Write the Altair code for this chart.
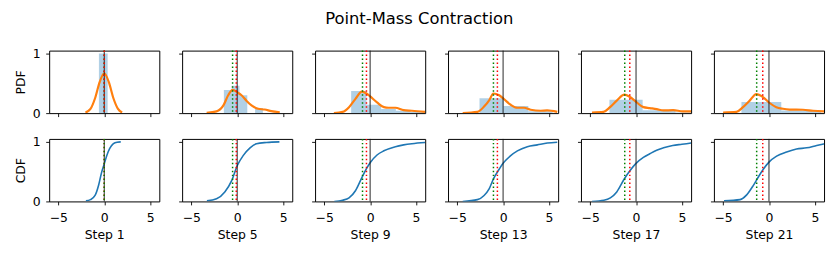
import altair as alt
import pandas as pd

steps = [1, 5, 9, 13, 17, 21]
means = [0.0, -0.1, -0.4, -0.62, -0.68, -0.68]
medians = [0.0, -0.5, -0.83, -1.05, -1.23, -1.34]

hist_edges = [
    [-0.58, 0.37],
    [-1.45, -0.6, 0.25, 1.1, 1.95, 2.8],
    [-2.07, -0.4, 1.2, 2.8, 4.4, 6.0],
    [-2.57, 0.05, 2.75, 5.4],
    [-2.9, 0.72, 4.3, 7.9],
    [-3.0, 1.34, 5.7],
]
hist_heights = [
    [1.0],
    [0.39, 0.46, 0.30, 0.0, 0.085],
    [0.37, 0.14, 0.07, 0.04, 0.02],
    [0.25, 0.12, 0.03],
    [0.225, 0.05, 0.01],
    [0.185, 0.045],
]

kde_x = [
    [-2.05, -1.5, -1.0, -0.5, 0.0, 0.5, 1.0, 1.5, 1.95],
    [-3.33, -2.25, -1.5, -0.98, -0.5, 0.0, 0.47, 1.0, 1.56, 2.28, 3.0, 3.73, 4.64],
    [-3.95, -3.0, -2.3, -1.6, -0.9, -0.4, 0.0, 0.75, 1.5, 2.0, 2.75, 3.65, 4.55, 6.0],
    [-4.4, -2.8, -2.07, -1.5, -1.05, -0.43, 0.1, 0.83, 1.56, 2.28, 3.0, 4.1, 4.8, 5.9],
    [-4.8, -3.55, -2.83, -2.1, -1.27, -0.65, 0.07, 0.8, 1.5, 2.25, 3.0, 4.05, 5.1, 6.0],
    [-5.0, -3.55, -2.83, -2.1, -1.38, -0.65, 0.07, 0.8, 1.52, 2.25, 3.7, 4.8, 6.0],
]
kde_y = [
    [0.01, 0.07, 0.25, 0.52, 0.67, 0.52, 0.25, 0.07, 0.01],
    [0.005, 0.03, 0.13, 0.3, 0.39, 0.35, 0.3, 0.21, 0.13, 0.073, 0.06, 0.034, 0.015],
    [0.0, 0.02, 0.1, 0.24, 0.36, 0.33, 0.28, 0.18, 0.1, 0.09, 0.09, 0.05, 0.04, 0.02],
    [0.0, 0.02, 0.11, 0.22, 0.33, 0.3, 0.235, 0.14, 0.09, 0.09, 0.056, 0.04, 0.045, 0.02],
    [0.01, 0.02, 0.1, 0.21, 0.31, 0.27, 0.18, 0.1, 0.084, 0.067, 0.045, 0.05, 0.028, 0.028],
    [0.01, 0.02, 0.1, 0.21, 0.32, 0.27, 0.17, 0.1, 0.073, 0.06, 0.056, 0.04, 0.03],
]

cdf_x = [
    [-2.0, -1.5, -1.0, -0.6, -0.3, 0.0, 0.3, 0.6, 1.0, 1.4, 1.8],
    [-3.3, -2.25, -1.35, -0.6, 0.0, 0.65, 1.4, 2.1, 3.2, 4.6],
    [-3.9, -3.0, -2.3, -1.6, -0.9, -0.4, 0.0, 0.75, 1.5, 2.75, 3.65, 4.55, 6.0],
    [-4.4, -2.8, -2.07, -1.52, -1.05, -0.43, 0.0, 0.83, 1.56, 2.64, 3.73, 4.82, 5.9],
    [-4.8, -3.5, -2.8, -2.1, -1.27, -0.65, 0.0, 0.8, 1.5, 2.25, 3.0, 4.0, 5.0, 6.0],
    [-4.9, -3.15, -2.43, -1.7, -1.16, -0.62, 0.0, 0.83, 1.92, 3.0, 4.1, 5.2, 6.1],
]
cdf_y = [
    [0.01, 0.03, 0.1, 0.28, 0.48, 0.63, 0.78, 0.89, 0.97, 0.995, 1.0],
    [0.01, 0.045, 0.16, 0.35, 0.6, 0.77, 0.9, 0.97, 0.99, 1.0],
    [0.0, 0.02, 0.06, 0.18, 0.4, 0.55, 0.65, 0.78, 0.85, 0.92, 0.95, 0.97, 0.99],
    [0.0, 0.03, 0.1, 0.21, 0.38, 0.54, 0.64, 0.77, 0.85, 0.92, 0.95, 0.98, 0.995],
    [0.0, 0.02, 0.06, 0.16, 0.38, 0.52, 0.64, 0.74, 0.8, 0.86, 0.9, 0.94, 0.96, 0.98],
    [0.01, 0.03, 0.11, 0.27, 0.41, 0.54, 0.66, 0.76, 0.83, 0.88, 0.9, 0.94, 0.97],
]

X_DOMAIN = [-6, 6]
Y_DOMAIN = [0, 1.05]
W, H = 111, 63
FONT = "DejaVu Sans"
DOT = [1.5, 2.5]


def xenc(field, bottom, title):
    kw = dict(values=[-5, 0, 5], labels=bottom, format="d",
              labelPadding=6.5, titlePadding=5)
    kw["title"] = title if bottom else None
    return alt.X(field, type="quantitative",
                 scale=alt.Scale(domain=X_DOMAIN, nice=False, zero=False),
                 axis=alt.Axis(**kw))


def yenc(field, first, title):
    kw = dict(values=[0, 1], labels=first, format="d",
              labelPadding=5.5, titlePadding=5)
    kw["title"] = title if first else None
    return alt.Y(field, type="quantitative",
                 scale=alt.Scale(domain=Y_DOMAIN, nice=False, zero=False),
                 axis=alt.Axis(**kw))


def vlines(i, bottom, title, green_last):
    zero = alt.Chart(pd.DataFrame({"v": [0.0]})).mark_rule(
        color="#111111", strokeWidth=0.9).encode(x=xenc("v", bottom, title))
    green = alt.Chart(pd.DataFrame({"v": [medians[i]]})).mark_rule(
        color="#008000", strokeWidth=1.5, strokeDash=DOT).encode(x=xenc("v", bottom, title))
    red = alt.Chart(pd.DataFrame({"v": [means[i]]})).mark_rule(
        color="#ff0000", strokeWidth=1.5, strokeDash=DOT).encode(x=xenc("v", bottom, title))
    return [zero, red, green] if green_last else [zero, green, red]


top_panels = []
bot_panels = []
for i, s in enumerate(steps):
    first = i == 0
    title = f"Step {s}"
    e = hist_edges[i]
    hdf = pd.DataFrame({"x0": e[:-1], "x1": e[1:], "h": hist_heights[i],
                        "b": [0.0] * len(hist_heights[i])})
    hist = alt.Chart(hdf).mark_rect(color="#1f77b4", opacity=0.35, clip=True).encode(
        x=xenc("x0", False, title), x2="x1:Q",
        y=yenc("h", first, "PDF"), y2="b:Q")
    kdf = pd.DataFrame({"x": kde_x[i], "y": kde_y[i]})
    kde = alt.Chart(kdf).mark_line(color="#ff7f0e", strokeWidth=2.2, clip=True,
                                   interpolate="monotone").encode(
        x=xenc("x", False, title), y=yenc("y", first, "PDF"))
    top = alt.layer(hist, kde, *vlines(i, False, title, False)).properties(
        width=W, height=H)
    top_panels.append(top)

    cdf = pd.DataFrame({"x": cdf_x[i], "y": cdf_y[i]})
    cline = alt.Chart(cdf).mark_line(color="#1f77b4", strokeWidth=1.6, clip=True,
                                     interpolate="monotone").encode(
        x=xenc("x", True, title), y=yenc("y", first, "CDF"))
    bot = alt.layer(cline, *vlines(i, True, title, True)).properties(
        width=W, height=H)
    bot_panels.append(bot)

row1 = alt.hconcat(*top_panels, spacing=23, bounds="flush")
row2 = alt.hconcat(*bot_panels, spacing=23, bounds="flush")

chart = alt.vconcat(row1, row2, spacing=15).properties(
    title=alt.TitleParams("Point-Mass Contraction", font=FONT, fontSize=16.5,
                          fontWeight="normal", color="black", anchor="middle",
                          offset=20),
    padding={"left": 5.5, "top": 2, "right": 5, "bottom": 5},
    background="white",
).configure_view(stroke="black", strokeWidth=1).configure_axis(
    domain=False, grid=False, tickColor="black", tickSize=3.5, tickWidth=0.9,
    labelFont=FONT, labelFontSize=12.5, labelColor="black",
    titleFont=FONT, titleFontSize=12.5, titleFontWeight="normal", titleColor="black",
)

chart.save("out.html", embed_options={"renderer": "svg", "actions": False})
